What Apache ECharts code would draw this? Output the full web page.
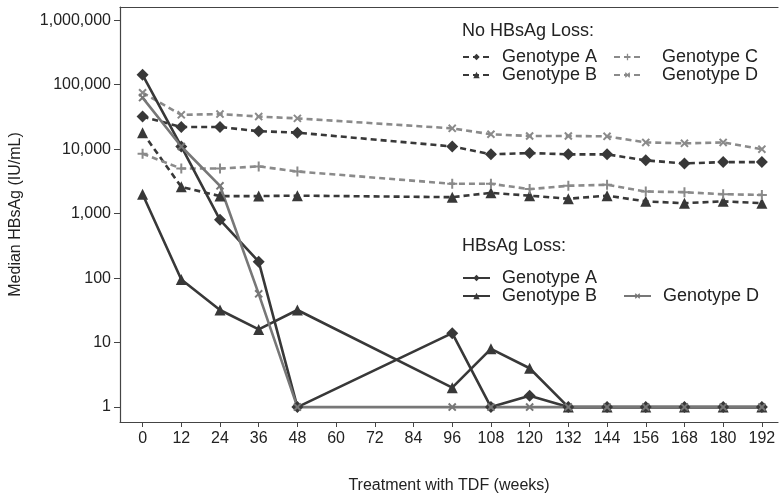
<!DOCTYPE html>
<html>
<head>
<meta charset="utf-8">
<script src="https://cdn.jsdelivr.net/npm/echarts@6/dist/echarts.min.js"></script>
<style>
html,body{margin:0;padding:0;background:#fff;}
#chart{width:780px;height:499px;}
</style>
</head>
<body>
<div id="chart"></div>
<script>
// ---- data ----
const weeks = [0, 12, 24, 36, 48, 96, 108, 120, 132, 144, 156, 168, 180, 192];
const xTickLabels = [0, 12, 24, 36, 48, 60, 72, 84, 96, 108, 120, 132, 144, 156, 168, 180, 192];
const yTickLabels = [1, 10, 100, 1000, 10000, 100000, 1000000];

const noLossA = [32000, 22000, 22000, 19000, 18000, 11000, 8300, 8700, 8300, 8300, 6700, 6000, 6300, 6300];
const noLossB = [18000, 2600, 1870, 1870, 1900, 1800, 2100, 1900, 1700, 1900, 1550, 1450, 1550, 1450];
const noLossC = [8500, 5000, 5000, 5400, 4500, 2900, 2900, 2400, 2700, 2800, 2200, 2150, 2000, 1950];
const noLossD = [75000, 34000, 35000, 32000, 30000, 21000, 17000, 16000, 16000, 15800, 12700, 12300, 12700, 10000];
const lossA = [142000, 11000, 800, 180, 1, 14, 1, 1.5, 1, 1, 1, 1, 1, 1];
const lossB = [2000, 95, 32, 16, 32, 2, 8, 4, 1, 1, 1, 1, 1, 1];
const lossD = [63000, 11000, 2700, 57, 1, 1, 1, 1, 1, 1, 1, 1, 1, 1];

// ---- styling ----
const DARK = '#383838';
const LIGHT = '#8a8a8a';
const MID = '#777777';
const FONT = 'Liberation Sans';
const PLUS = 'path://M4,0H6V4H10V6H6V10H4V6H0V4H4Z';

function pairs(vals) { return weeks.map((w, i) => [w, vals[i]]); }

function mkSeries(name, vals, color, symbol, dashed, rotate, size) {
  return {
    name: name,
    type: 'line',
    data: pairs(vals),
    symbol: symbol,
    symbolSize: size,
    symbolRotate: rotate || 0,
    showSymbol: true,
    lineStyle: { color: color, width: 2.6, type: dashed ? [6, 4] : 'solid' },
    itemStyle: { color: color },
    emphasis: { disabled: true },
    animation: false
  };
}

const series = [
  mkSeries('nlA', noLossA, DARK, 'diamond', true, 0, 12),
  mkSeries('nlB', noLossB, DARK, 'triangle', true, 0, 11),
  mkSeries('nlC', noLossC, LIGHT, PLUS, true, 0, 10),
  mkSeries('nlD', noLossD, LIGHT, PLUS, true, 45, 10),
  mkSeries('lA', lossA, DARK, 'diamond', false, 0, 12),
  mkSeries('lB', lossB, DARK, 'triangle', false, 0, 11),
  mkSeries('lD', lossD, MID, PLUS, false, 45, 10)
];

const legendNames = { nlA: 'Genotype A', nlB: 'Genotype B', nlC: 'Genotype C', nlD: 'Genotype D', lA: 'Genotype A', lB: 'Genotype B', lD: 'Genotype D' };
function legendCfg(data, left, top, padLeft) {
  return {
    data: data, left: left, top: top, orient: 'vertical',
    itemGap: 0, itemWidth: 27, itemHeight: 8, selectedMode: false,
    formatter: n => legendNames[n],
    textStyle: { fontFamily: FONT, fontSize: 18, color: '#222', padding: [0, 0, 0, padLeft] },
    padding: 0
  };
}

const chart = echarts.init(document.getElementById('chart'), null, { renderer: 'canvas' });
chart.setOption({
  backgroundColor: '#fff',
  animation: false,
  title: [
    { text: 'No HBsAg Loss:', left: 462, top: 22, padding: 0, textStyle: { fontFamily: FONT, fontSize: 18, fontWeight: 'normal', color: '#222' } },
    { text: 'HBsAg Loss:', left: 462, top: 237, padding: 0, textStyle: { fontFamily: FONT, fontSize: 18, fontWeight: 'normal', color: '#222' } }
  ],
  legend: [
    legendCfg(['nlA', 'nlB'], 462, 48, 7),
    legendCfg(['nlC', 'nlD'], 613, 48, 16),
    legendCfg(['lA', 'lB'], 462, 269, 7),
    legendCfg(['lD'], 623, 287, 7)
  ],
  grid: { left: 117, right: 2, top: 7, bottom: 75, containLabel: false },
  xAxis: [{
    type: 'value', min: -7, max: 197,
    name: 'Treatment with TDF (weeks)', nameLocation: 'middle', nameGap: 56,
    nameTextStyle: { fontFamily: FONT, fontSize: 16, color: '#222' },
    axisLine: { show: true, onZero: false, lineStyle: { color: '#444', width: 1.2 } },
    axisTick: { show: true, length: 5, customValues: xTickLabels, lineStyle: { color: '#444' } },
    axisLabel: { customValues: xTickLabels, fontFamily: FONT, fontSize: 16, color: '#222', margin: 9 },
    splitLine: { show: false }
  }, {
    type: 'value', min: -7, max: 197, position: 'top',
    axisLine: { show: true, onZero: false, lineStyle: { color: '#444', width: 1.2 } },
    axisTick: { show: false }, axisLabel: { show: false }, splitLine: { show: false }
  }],
  yAxis: {
    type: 'log', logBase: 10, min: 0.587, max: 1600000,
    name: 'Median HBsAg (IU/mL)', nameLocation: 'middle', nameGap: 96,
    nameTextStyle: { fontFamily: FONT, fontSize: 16, color: '#222' },
    axisLine: { show: true, onZero: false, lineStyle: { color: '#444', width: 1.2 } },
    axisTick: { show: true, length: 6, customValues: yTickLabels, lineStyle: { color: '#444' } },
    axisLabel: { customValues: yTickLabels, fontFamily: FONT, fontSize: 16, color: '#222', margin: 9,
      formatter: v => Math.round(v).toLocaleString('en-US') },
    splitLine: { show: false }
  },
  series: series
});
</script>
</body>
</html>
